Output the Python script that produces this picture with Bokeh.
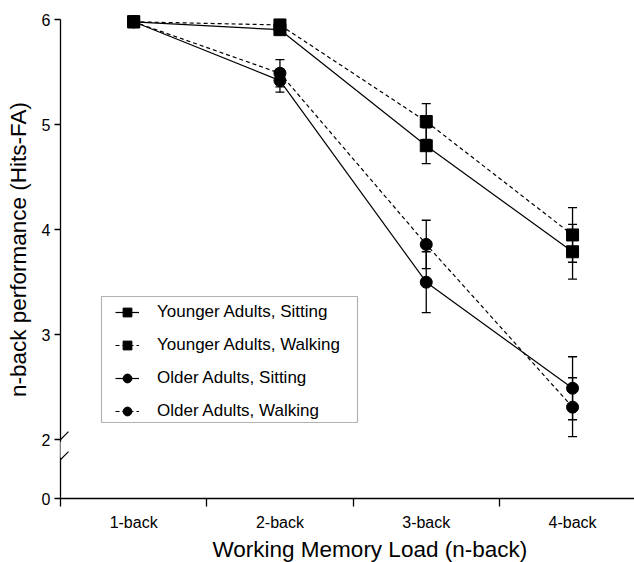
from bokeh.plotting import figure
from bokeh.models import (FixedTicker, Range1d, Legend, LegendItem, Whisker,
                          ColumnDataSource, TeeHead, Title, BoxAnnotation, Arrow)
from bokeh.embed import file_html
from bokeh.resources import INLINE

# ---------------- data ----------------
loads = ["1-back", "2-back", "3-back", "4-back"]
load_pos = [1, 2, 3, 4]

young_sit = [5.98, 5.905, 4.80, 3.79]
young_sit_err = [0.02, 0.04, 0.17, 0.26]
young_walk = [5.98, 5.95, 5.03, 3.95]
young_walk_err = [0.02, 0.03, 0.17, 0.26]
old_sit = [5.98, 5.42, 3.50, 2.49]
old_sit_err = [0.02, 0.11, 0.29, 0.30]
old_walk = [5.98, 5.49, 3.86, 2.31]
old_walk_err = [0.02, 0.13, 0.23, 0.28]

y_tick_values = [0, 2, 3, 4, 5, 6]
labels = ["Younger Adults, Sitting", "Younger Adults, Walking",
          "Older Adults, Sitting", "Older Adults, Walking"]

# ---------------- layout constants ----------------
FONT = "Liberation Sans"
ZERO_AT = 1.44          # where the "0" tick sits below the axis break
PX_X = 146.3            # px per category
PX_Y = 105.0            # px per unit of performance
FIG_W, FIG_H = 634, 562
BORDER_L, BORDER_B = 60, 64
FRAME_W, FRAME_H = FIG_W - BORDER_L, FIG_H - BORDER_B
Y_TOP = ZERO_AT + FRAME_H / PX_Y

p = figure(width=FIG_W, height=FIG_H,
           x_range=Range1d(0.5, 0.5 + FRAME_W / PX_X),
           y_range=Range1d(ZERO_AT, Y_TOP),
           output_backend="svg", toolbar_location=None,
           min_border_left=BORDER_L, min_border_right=0,
           min_border_top=0, min_border_bottom=BORDER_B)
p.outline_line_color = None
p.grid.visible = False
p.background_fill_color = "white"
p.border_fill_color = "white"

# ---------------- axes ----------------
xa = p.xaxis[0]
xa.ticker = FixedTicker(ticks=load_pos, minor_ticks=[v - 0.5 for v in load_pos])
xa.major_label_overrides = {pos: lab for pos, lab in zip(load_pos, loads)}
xa.major_tick_out = 0
xa.major_tick_in = 0
xa.minor_tick_out = 8
xa.minor_tick_in = 0
xa.minor_tick_line_color = "black"
xa.minor_tick_line_width = 1.3
xa.axis_line_color = "black"
xa.axis_line_width = 1.3
xa.major_label_text_font = FONT
xa.major_label_text_font_size = "16px"
xa.major_label_text_color = "black"
xa.major_label_standoff = 7

ya = p.yaxis[0]
plotted_ticks = [ZERO_AT if v == 0 else v for v in y_tick_values]
ya.ticker = FixedTicker(ticks=plotted_ticks, minor_ticks=[])
ya.major_label_overrides = {ZERO_AT: "0"}
ya.bounds = (ZERO_AT, 6)
ya.major_tick_out = 6
ya.major_tick_in = 0
ya.major_tick_line_color = "black"
ya.major_tick_line_width = 1.3
ya.axis_line_color = "black"
ya.axis_line_width = 1.3
ya.major_label_text_font = FONT
ya.major_label_text_font_size = "16px"
ya.major_label_text_color = "black"
ya.major_label_standoff = 4
ya.axis_label = "n-back performance (Hits-FA)"
ya.axis_label_text_font = FONT
ya.axis_label_text_font_size = "22.5px"
ya.axis_label_text_font_style = "normal"
ya.axis_label_text_color = "black"
ya.axis_label_standoff = 8

# axis break: hide a small piece of the y axis line and draw two slashes
gap = BoxAnnotation(left=0.5 - 5 / PX_X, right=0.5 + 5 / PX_X,
                    bottom=2 - 18 / PX_Y, top=2 - 2 / PX_Y,
                    fill_color="white", fill_alpha=1.0, line_color=None)
p.add_layout(gap)
for yc in (2.0, 2 - 20 / PX_Y):
    p.add_layout(Arrow(end=None, x_start=0.5 - 8 / PX_X, y_start=yc - 8 / PX_Y,
                       x_end=0.5 + 8 / PX_X, y_end=yc + 8 / PX_Y,
                       line_color="black", line_width=1.2))

# x axis title (offset to the right, as in the original)
p.add_layout(Title(text="Working Memory Load (n-back)", align="left", offset=152,
                   text_font=FONT, text_font_size="22.5px",
                   text_font_style="normal", text_color="black",
                   standoff=2), "below")

# ---------------- series ----------------
series = [
    (young_sit, young_sit_err, "solid", "square"),
    (young_walk, young_walk_err, "4 3", "square"),
    (old_sit, old_sit_err, "solid", "circle"),
    (old_walk, old_walk_err, "4 3", "circle"),
]

items = []
for (vals, errs, dash, marker), lab in zip(series, labels):
    src = ColumnDataSource(dict(x=load_pos, y=vals,
                                upper=[v + e for v, e in zip(vals, errs)],
                                lower=[v - e for v, e in zip(vals, errs)]))
    w = Whisker(source=src, base="x", upper="upper", lower="lower",
                line_color="black", line_width=1.3,
                upper_head=TeeHead(size=9, line_color="black", line_width=1.3),
                lower_head=TeeHead(size=9, line_color="black", line_width=1.3))
    p.add_layout(w)
    lr = p.line("x", "y", source=src, line_color="black", line_width=1.2,
                line_dash=dash)
    sr = p.scatter("x", "y", source=src, marker=marker, size=12,
                   fill_color="black", line_color="black")
    items.append(LegendItem(label=lab, renderers=[lr, sr]))

# legend frame (drawn separately so the inner spacing can match the original)
LEG_L, LEG_R, LEG_T, LEG_B = 41, 297, 296, 422   # px: from frame left / from top
p.add_layout(BoxAnnotation(left=0.5 + LEG_L / PX_X, right=0.5 + LEG_R / PX_X,
                           top=Y_TOP - LEG_T / PX_Y, bottom=Y_TOP - LEG_B / PX_Y,
                           fill_color="white", fill_alpha=1.0,
                           line_color="black", line_width=1.2))

legend = Legend(items=items, location=(55, FRAME_H - LEG_B),
                label_text_font=FONT, label_text_font_size="17px",
                label_text_color="black",
                glyph_width=24, glyph_height=22, label_height=18,
                spacing=11, padding=0, label_standoff=18, margin=0,
                border_line_color=None,
                background_fill_alpha=0.0)
p.add_layout(legend)

open("out.html", "w").write(file_html(p, INLINE))
